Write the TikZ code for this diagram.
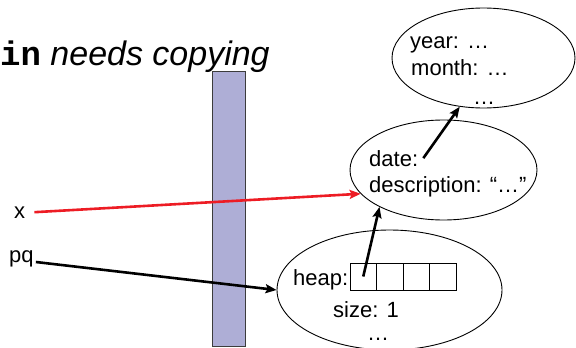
\documentclass[tikz,border=0pt]{standalone}
\usepackage{fontspec}
\setmainfont{Liberation Sans}
\setmonofont{Liberation Mono}
\usetikzlibrary{arrows.meta,shapes.geometric}
\definecolor{barfill}{RGB}{174,174,214}
\definecolor{barline}{RGB}{60,60,60}
\definecolor{ptrred}{RGB}{237,28,36}
\tikzset{
  lbl/.style={font=\fontsize{22}{26}\selectfont, anchor=base west, inner sep=0pt},
  ell/.style={ellipse, draw=black, line width=0.9pt, inner sep=0pt},
  cell/.style={draw=black, line width=0.9pt, minimum width=26.5pt, minimum height=27pt, inner sep=0pt},
  ptr/.style={line width=2.6pt, -{Stealth[length=11pt,width=9pt,inset=2pt]}},
  redptr/.style={ptr, draw=ptrred, color=ptrred},
  barbox/.style={fill=barfill, draw=barline, line width=0.9pt}
}
\begin{document}
\begin{tikzpicture}[x=1pt,y=-1pt]
\useasboundingbox (0,0) rectangle (576,348);
% title
\node[anchor=base west, inner sep=0pt, font=\fontsize{34}{40}\selectfont] (title) at (0,65)
  {{\ttfamily\bfseries in} \itshape needs copying};
% bar
\node[barbox, minimum width=33pt, minimum height=275pt, inner sep=0pt] (bar) at (228.5,208.5) {};
% ellipses
\node[ell, minimum width=183pt, minimum height=100pt] (yearE) at (483.5,58) {};
\node[ell, minimum width=187pt, minimum height=100pt] (dateE) at (443.5,170) {};
\node[ell, minimum width=225pt, minimum height=120pt] (heapE) at (389.5,290) {};
% texts
\node[lbl] (year) at (410,48) {year: …};
\node[lbl] (month) at (411,75) {month: …};
\node[lbl] (ydots) at (473,104) {…};
\node[lbl] (date) at (369,166) {date:};
\node[lbl] (desc) at (369,192) {description: “…”};
\node[lbl] (heap) at (293,285) {heap:};
\node[lbl] (size) at (333,317) {size: 1};
\node[lbl] (hdots) at (367,340) {…};
\node[lbl] (x) at (14,218) {x};
\node[lbl] (pq) at (9,262) {pq};
% heap cells
\node[cell] (c1) at (363.25,276.5) {};
\node[cell] (c2) at (389.75,276.5) {};
\node[cell] (c3) at (416.25,276.5) {};
\node[cell] (c4) at (442.75,276.5) {};
% pointers
\draw[redptr] ([xshift=9pt]x.east) -- (dateE.196);
\draw[ptr] ([xshift=2pt]pq.base east) -- (heapE.west);
\draw[ptr] (c1.center) -- (dateE.210);
\draw[ptr] ([xshift=5pt]date.east) -- (yearE.244);
\end{tikzpicture}
\end{document}
